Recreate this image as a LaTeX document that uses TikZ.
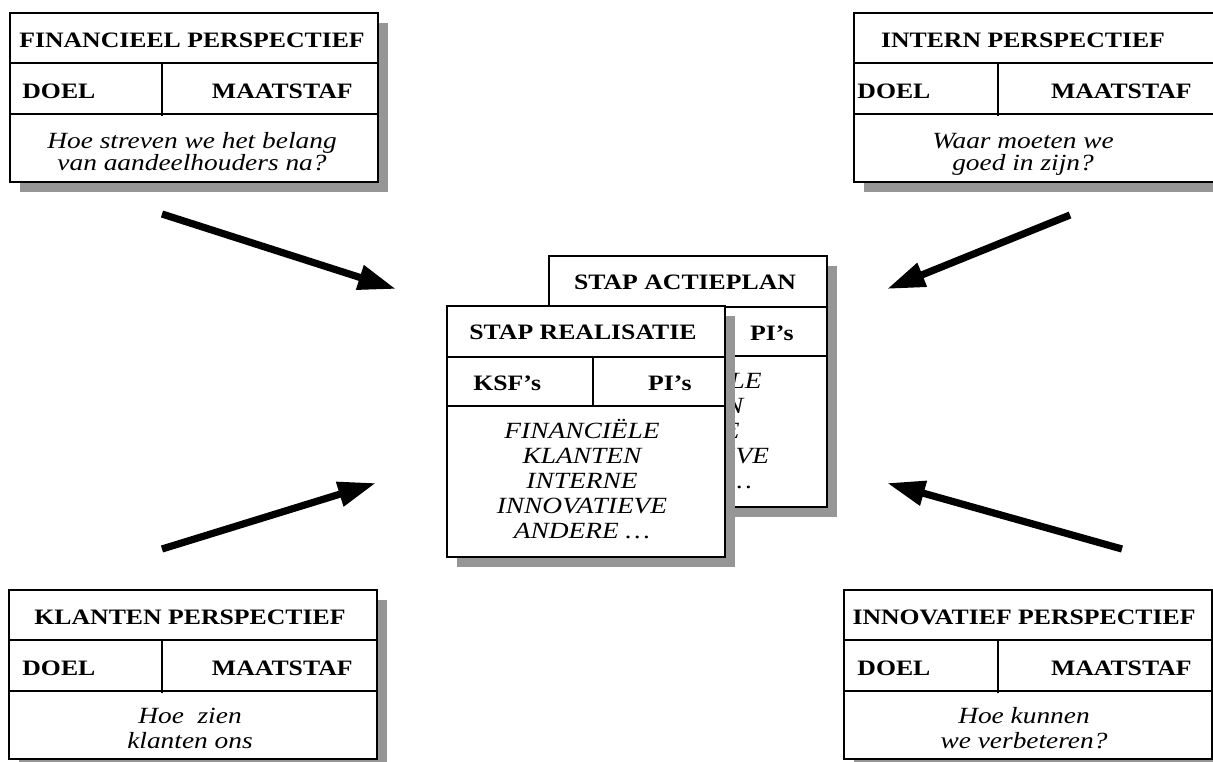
\documentclass[tikz,border=0pt]{standalone}
\usepackage{fontspec}
\setmainfont{Liberation Serif}
\usepackage{graphicx}
\usetikzlibrary{arrows.meta}

\definecolor{shadowgray}{RGB}{150,150,150}

% headings and questions are set slightly wide
\newcommand{\widehead}[1]{\scalebox{1.17}[1]{#1}}
\newcommand{\widebody}[1]{\scalebox{1.18}[1]{#1}}

\tikzset{
  frame/.style={draw=black, line width=1pt, fill=white},
  divider/.style={draw=black, line width=0.8pt},
  dropshadow/.style={fill=shadowgray, draw=none},
  head/.style={inner sep=0pt, font=\fontsize{11}{12}\selectfont\bfseries},
  body/.style={inner sep=0pt, font=\fontsize{11.6}{12.5}\selectfont\itshape},
  bigarrow/.style={line width=3.6pt, -{Triangle[length=19pt,width=12pt]}},
}

% perspective card: #1 name, #2 left, #3 top, #4 column divider x,
% #5 text centre x, #6 DOEL left x, #7 MAATSTAF right x, #8 title, #9 question
\newcommand{\perspbox}[9]{%
  \path[dropshadow] ({#2+10},{#3+10}) rectangle ({#2+378},{#3+179});
  \draw[frame] (#2,#3) rectangle ({#2+368},{#3+169});
  \draw[divider] (#2,{#3+50}) -- ({#2+368},{#3+50})
                 (#2,{#3+101}) -- ({#2+368},{#3+101})
                 (#4,{#3+50}) -- (#4,{#3+103});
  \node[head] (#1-title) at (#5,{#3+27}) {\widehead{#8}};
  \node[head, anchor=west] (#1-doel) at (#6,{#3+78}) {\widehead{DOEL}};
  \node[head, anchor=east] (#1-maat) at (#7,{#3+78}) {\widehead{MAATSTAF}};
  \node[body] (#1-body) at (#5,{#3+141})
    {\widebody{\begin{tabular}{@{}c@{}}#9\end{tabular}}};
}

% step card: #1 name, #2 left, #3 top, #4 title
\newcommand{\stepcard}[4]{%
  \path[dropshadow] ({#2+10},{#3+10}) rectangle ({#2+288},{#3+261});
  \draw[frame] (#2,#3) rectangle ({#2+278},{#3+251});
  \draw[divider] (#2,{#3+51}) -- ({#2+278},{#3+51})
                 (#2,{#3+100}) -- ({#2+278},{#3+100})
                 ({#2+146},{#3+51}) -- ({#2+146},{#3+100});
  \node[head] (#1-title) at ({#2+136},{#3+26}) {\widehead{#4}};
  \node[head, anchor=west] (#1-ksf) at ({#2+26},{#3+77}) {\widehead{KSF’s}};
  \node[head, anchor=east] (#1-pi) at ({#2+245},{#3+77}) {\widehead{PI’s}};
  \node[body] (#1-body) at ({#2+135},{#3+177})
    {\widebody{\begin{tabular}{@{}c@{}}FINANCIËLE\\KLANTEN\\INTERNE\\INNOVATIEVE\\ANDERE \dots\end{tabular}}};
}

\begin{document}
\begin{tikzpicture}[x=0.5pt, y=-0.5pt]
  \useasboundingbox (0,0) rectangle (1213,761);
  \clip (0,0) rectangle (1213,761);

  % the four perspectives
  \perspbox{fin}{10}{13}{162}{192}{22}{353}{FINANCIEEL PERSPECTIEF}
    {Hoe streven we het belang\\[-1.5pt] van aandeelhouders na?}
  \perspbox{int}{854}{13}{998}{1023}{857}{1192}{INTERN PERSPECTIEF}
    {Waar moeten we\\[-1.5pt] goed in zijn?}
  \perspbox{kla}{9}{590}{162}{190}{22}{353}{KLANTEN PERSPECTIEF}
    {Hoe\ \ zien\\ klanten ons}
  \perspbox{inn}{844}{590}{998}{1024}{857}{1192}{INNOVATIEF PERSPECTIEF}
    {Hoe kunnen\\ we verbeteren?}

  % the two stacked step cards
  \stepcard{actie}{549}{256}{STAP ACTIEPLAN}
  \stepcard{real}{447}{306}{STAP REALISATIE}

  % arrows towards the centre
  \coordinate (finT) at (162,214);  \coordinate (finH) at (396,289);
  \coordinate (intT) at (1070,215); \coordinate (intH) at (887,289);
  \coordinate (klaT) at (162,549);  \coordinate (klaH) at (376,483);
  \coordinate (innT) at (1122,549); \coordinate (innH) at (887,483);
  \draw[bigarrow] (finT) -- (finH);
  \draw[bigarrow] (intT) -- (intH);
  \draw[bigarrow] (klaT) -- (klaH);
  \draw[bigarrow] (innT) -- (innH);
\end{tikzpicture}
\end{document}
